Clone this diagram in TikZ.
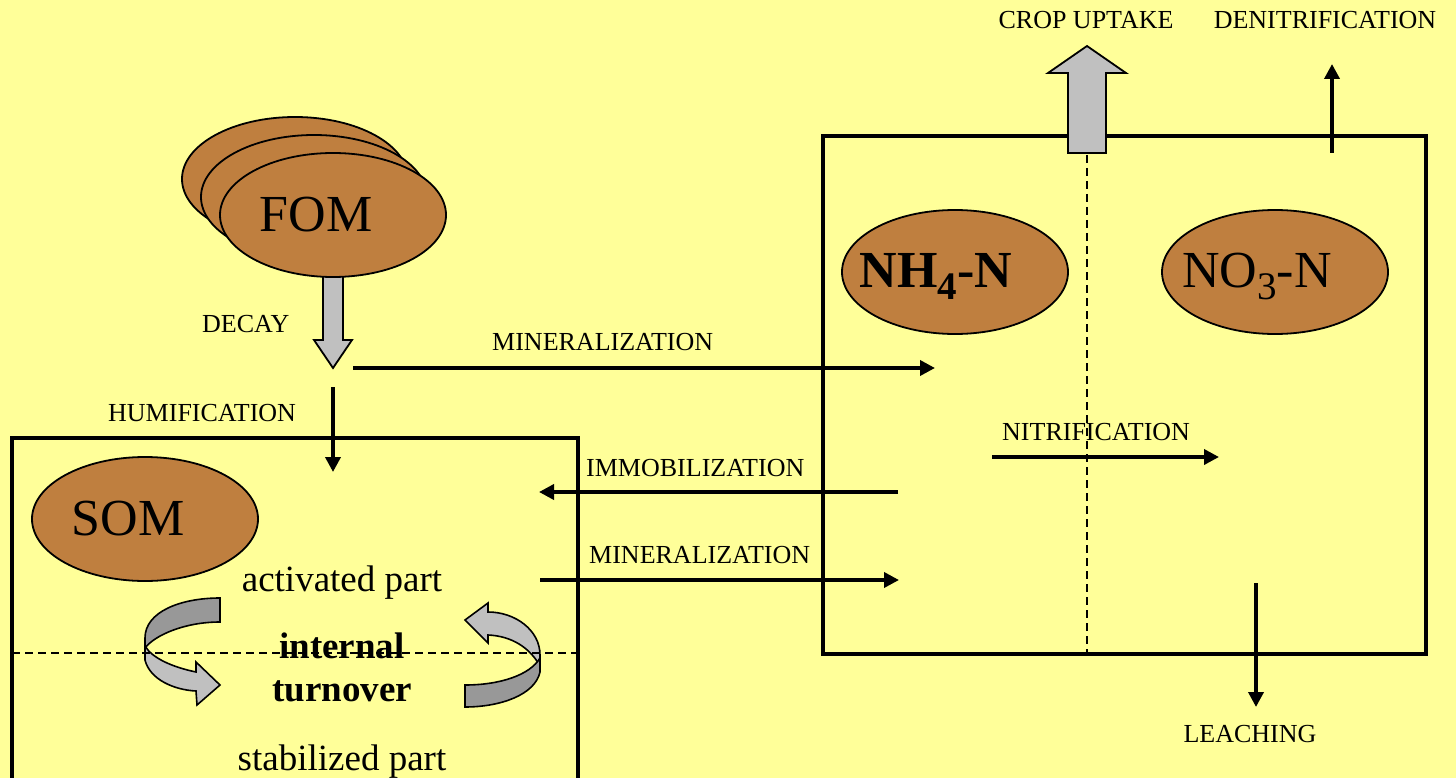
\documentclass[tikz,border=0pt]{standalone}
\usepackage{fontspec}
\setmainfont{Liberation Serif}
\usetikzlibrary{shapes.geometric,arrows.meta}
\definecolor{bgyellow}{RGB}{255,255,153}
\definecolor{pool}{RGB}{191,127,63}
\definecolor{lgrey}{RGB}{192,192,192}
\definecolor{dgrey}{RGB}{152,152,152}
\newcommand\mysub[1]{\raisebox{-13pt}{\fontsize{39}{44}\selectfont #1}}
\tikzset{
  poolnode/.style={ellipse,draw=black,line width=1.8pt,fill=pool,minimum width=226pt,minimum height=124pt,inner sep=0pt},
  bigtext/.style={font=\fontsize{52}{60}\selectfont,anchor=base,inner sep=0pt},
  lbl/.style={font=\fontsize{26}{30}\selectfont,anchor=base west,inner sep=0pt},
  midtext/.style={font=\fontsize{37}{44}\selectfont,anchor=base,inner sep=0pt},
  flow/.style={line width=3.6pt,-{Triangle[length=15pt,width=15pt]}},
  boxline/.style={line width=3.5pt},
  divider/.style={line width=1.5pt,dash pattern=on 8pt off 5pt},
  blockarrow/.style={draw=black,line width=1.8pt,fill=lgrey,line join=miter},
  ribbonlight/.style={draw=black,line width=1.6pt,fill=lgrey,line join=miter},
  ribbondark/.style={draw=black,line width=1.6pt,fill=dgrey,line join=miter},
}
\begin{document}
\begin{tikzpicture}[x=1pt,y=-1pt]
\fill[bgyellow] (0,0) rectangle (1456,778);
\useasboundingbox (0,0) rectangle (1456,778);
\clip (0,0) rectangle (1456,778);

% ---- FOM stack and decay arrow
\node[poolnode] (fom3) at (295,179) {};
\node[poolnode] (fom2) at (314,197) {};
\draw[blockarrow] (323,262) -- (323,340) -- (314,340) -- (333,368) coordinate (decaytip) -- (352,340) -- (343,340) -- (343,262) -- cycle;
\node[poolnode] (fom) at (333,215) {};
\node[bigtext] (fomtext) at (316,232) {FOM};
\node[lbl] (decay) at (202,332) {DECAY};

% ---- upper mineralization & humification
\coordinate (minAs) at (353,368);
\coordinate (minAe) at (935,368);
\draw[flow] (minAs) -- (minAe);
\node[lbl] (minAlbl) at (492,350) {MINERALIZATION};
\coordinate (humS) at (333,387);
\coordinate (humE) at (333,472);
\draw[flow] (humS) -- (humE);
\node[lbl] (humlbl) at (108,421) {HUMIFICATION};

% ---- SOM box
\draw[boxline] (12,790) -- (12,438) -- (578,438) -- (578,790);
\node[poolnode] (som) at (145,519) {};
\node[bigtext] (somtext) at (128,535) {SOM};
\node[midtext] (act) at (342,591) {activated part};
\node[midtext,font=\fontsize{37}{44}\selectfont\bfseries] (int) at (342,658) {internal};
\node[midtext,font=\fontsize{37}{44}\selectfont\bfseries] (turn) at (342,701) {turnover};
\node[midtext] (stab) at (342,770) {stabilized part};

% left ribbon arrow
\filldraw[ribbondark] (220,598) .. controls (180,598) and (145,612) .. (145,638) -- (145,648)
   .. controls (155,635) and (185,622) .. (220,622) -- cycle;
\filldraw[ribbonlight] (145,646) -- (145,660) .. controls (150,680) and (175,690) .. (196,691)
   -- (197,705) -- (220,685) -- (196,662) -- (196,672)
   .. controls (172,667) and (152,658) .. (145,646) -- cycle;
% right ribbon arrow
\filldraw[ribbonlight] (465,620) -- (488,603) -- (488,612)
   .. controls (515,612) and (540,630) .. (540,655) -- (540,666)
   .. controls (530,648) and (512,636) .. (488,635) -- (488,643) -- cycle;
\filldraw[ribbondark] (540,658) -- (540,672) .. controls (535,695) and (500,707) .. (465,707)
   -- (465,685) .. controls (500,685) and (530,675) .. (540,658) -- cycle;

\coordinate (dashL) at (12,653);
\coordinate (dashR) at (578,653);
\draw[divider] (dashL) -- (dashR);

% ---- N box
\draw[boxline] (823,136) rectangle (1426,654);
\coordinate (vdashT) at (1087,155);
\coordinate (vdashB) at (1087,652);
\draw[divider] (vdashT) -- (vdashB);
\node[poolnode] (nh4) at (955,272) {};
\node[bigtext,font=\fontsize{52}{60}\selectfont\bfseries] (nh4text) at (936,287) {NH\mysub{4}-N};
\node[poolnode] (no3) at (1275,272) {};
\node[bigtext] (no3text) at (1257,287) {NO\mysub{3}-N};

% crop uptake block arrow
\draw[blockarrow] (1068,153) -- (1068,73) -- (1048,73) -- (1087,46) coordinate (croptip) -- (1126,73) -- (1106,73) -- (1106,153) -- cycle;
\node[lbl,anchor=base] (croplbl) at (1086,29) {CROP UPTAKE};

% denitrification
\coordinate (denS) at (1332,153);
\coordinate (denE) at (1332,64);
\draw[flow] (denS) -- (denE);
\node[lbl,anchor=base] (denlbl) at (1325,29) {DENITRIFICATION};

% leaching
\coordinate (leaS) at (1256,583);
\coordinate (leaE) at (1256,707);
\draw[flow] (leaS) -- (leaE);
\node[lbl,anchor=base] (lealbl) at (1250,742) {LEACHING};

% nitrification
\coordinate (nitS) at (992,457);
\coordinate (nitE) at (1219,457);
\draw[flow] (nitS) -- (nitE);
\node[lbl] (nitlbl) at (1002,440) {NITRIFICATION};

% immobilization
\coordinate (immS) at (898,492);
\coordinate (immE) at (539,492);
\draw[flow] (immS) -- (immE);
\node[lbl] (immlbl) at (586,476) {IMMOBILIZATION};

% lower mineralization
\coordinate (minBs) at (540,580);
\coordinate (minBe) at (899,580);
\draw[flow] (minBs) -- (minBe);
\node[lbl] (minBlbl) at (589,563) {MINERALIZATION};
\end{tikzpicture}
\end{document}
